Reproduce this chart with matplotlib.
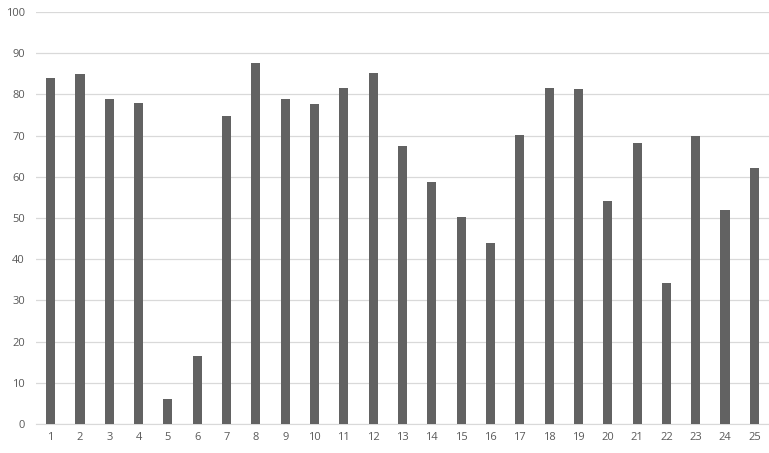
import matplotlib
matplotlib.use("Agg")
import matplotlib.pyplot as plt

# category labels and bar values
categories = list(range(1, 26))
values = [84, 85, 78.9, 78, 6, 16.6, 74.8, 87.6, 79, 77.6,
          81.5, 85.2, 67.5, 58.8, 50.3, 44, 70.1, 81.5, 81.3, 54.2,
          68.2, 34.3, 69.9, 52, 62.1]
yticks = list(range(0, 101, 10))

fig = plt.figure(figsize=(7.69, 4.53), dpi=100)
ax = fig.add_axes([36 / 769, 29 / 453, 733 / 769, 412 / 453])

ax.bar(categories, values, width=0.31, color="#626262", zorder=3)

ax.set_xlim(0.5, 25.5)
ax.set_ylim(0, 100)
ax.set_yticks(yticks)
ax.set_xticks(categories)
ax.yaxis.grid(True, color="#d9d9d9", linewidth=0.9, zorder=0)
for s in ["top", "right", "left"]:
    ax.spines[s].set_visible(False)
ax.spines["bottom"].set_color("#d9d9d9")
ax.tick_params(axis="both", length=0, labelsize=8, colors="#595959")
ax.tick_params(axis="y", pad=8)
ax.tick_params(axis="x", pad=6)
for lbl in ax.get_xticklabels() + ax.get_yticklabels():
    lbl.set_fontfamily("Open Sans")

plt.savefig("out.png", dpi=100)
plt.close()
